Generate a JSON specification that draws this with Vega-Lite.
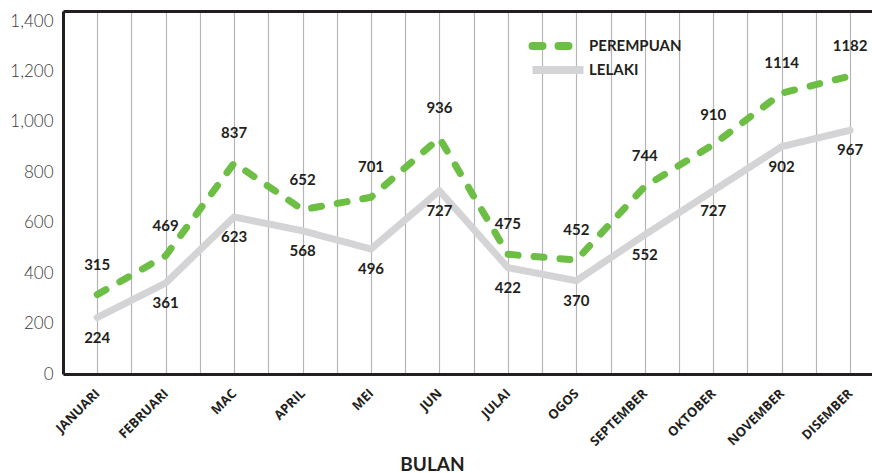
{
  "$schema": "https://vega.github.io/schema/vega-lite/v6.json",
  "width": 809,
  "height": 363,
  "autosize": "none",
  "padding": {"left": 63, "top": 11, "right": 0, "bottom": 99},
  "background": "white",
  "config": {"view": {"stroke": null}, "font": "Lato"},
  "data": {
    "values": [
      {"i": 1, "jantina": "PEREMPUAN", "nilai": 315},
      {"i": 2, "jantina": "PEREMPUAN", "nilai": 469},
      {"i": 3, "jantina": "PEREMPUAN", "nilai": 837},
      {"i": 4, "jantina": "PEREMPUAN", "nilai": 652},
      {"i": 5, "jantina": "PEREMPUAN", "nilai": 701},
      {"i": 6, "jantina": "PEREMPUAN", "nilai": 936},
      {"i": 7, "jantina": "PEREMPUAN", "nilai": 475},
      {"i": 8, "jantina": "PEREMPUAN", "nilai": 452},
      {"i": 9, "jantina": "PEREMPUAN", "nilai": 744},
      {"i": 10, "jantina": "PEREMPUAN", "nilai": 910},
      {"i": 11, "jantina": "PEREMPUAN", "nilai": 1114},
      {"i": 12, "jantina": "PEREMPUAN", "nilai": 1182},
      {"i": 1, "jantina": "LELAKI", "nilai": 224},
      {"i": 2, "jantina": "LELAKI", "nilai": 361},
      {"i": 3, "jantina": "LELAKI", "nilai": 623},
      {"i": 4, "jantina": "LELAKI", "nilai": 568},
      {"i": 5, "jantina": "LELAKI", "nilai": 496},
      {"i": 6, "jantina": "LELAKI", "nilai": 727},
      {"i": 7, "jantina": "LELAKI", "nilai": 422},
      {"i": 8, "jantina": "LELAKI", "nilai": 370},
      {"i": 9, "jantina": "LELAKI", "nilai": 552},
      {"i": 10, "jantina": "LELAKI", "nilai": 727},
      {"i": 11, "jantina": "LELAKI", "nilai": 902},
      {"i": 12, "jantina": "LELAKI", "nilai": 967}
    ]
  },
  "resolve": {"axis": {"x": "independent"}},
  "layer": [
    {
      "mark": {"type": "line", "strokeWidth": 7, "strokeCap": "round", "strokeJoin": "round"},
      "encoding": {
        "x": {
          "field": "i", "type": "quantitative",
          "scale": {"domain": [0.5, 12.32], "nice": false, "zero": false},
          "axis": {
            "values": [1, 1.5, 2, 2.5, 3, 3.5, 4, 4.5, 5, 5.5, 6, 6.5, 7, 7.5, 8, 8.5, 9, 9.5, 10, 10.5, 11, 11.5, 12],
            "labelExpr": "datum.value % 1 == 0 ? ['JANUARI','FEBRUARI','MAC','APRIL','MEI','JUN','JULAI','OGOS','SEPTEMBER','OKTOBER','NOVEMBER','DISEMBER'][datum.value - 1] : ''",
            "labelAngle": -45, "labelAlign": "right", "labelBaseline": "middle",
            "labelPadding": 17, "labelFont": "Open Sans", "labelFontSize": 13, "labelFontWeight": "bold", "labelColor": "#231F20",
            "labelOverlap": false, "labelFlush": false,
            "ticks": false,
            "grid": true, "gridColor": "#b5b5b8", "gridWidth": 1.2,
            "domainColor": "#231F20", "domainWidth": 3,
            "title": "BULAN", "titleFontSize": 19, "titleFontWeight": "bold", "titleColor": "#231F20",
            "titleX": 369, "titleY": 96, "titleBaseline": "alphabetic", "titleAlign": "center"
          }
        },
        "y": {
          "field": "nilai", "type": "quantitative",
          "scale": {"domain": [0, 1440], "nice": false},
          "axis": {
            "values": [0, 200, 400, 600, 800, 1000, 1200, 1400],
            "labelExpr": "format(datum.value, ',')",
            "grid": false, "ticks": false,
            "labelPadding": 10, "labelFontSize": 17, "labelFontWeight": 300, "labelColor": "#3a3a3a",
            "domainColor": "#231F20", "domainWidth": 3,
            "title": null
          }
        },
        "color": {
          "field": "jantina", "type": "nominal",
          "scale": {"domain": ["PEREMPUAN", "LELAKI"], "range": ["#6CBE45", "#D4D4D6"]},
          "legend": {
            "orient": "none", "legendX": 487, "legendY": 27, "title": null,
            "symbolType": "M-6.375,0H6.375", "symbolSize": 64, "symbolStrokeWidth": 8,
            "rowPadding": -10, "labelOffset": 23,
            "labelFontSize": 15, "labelFontWeight": "bold", "labelColor": "#231F20",
            "encode": {"symbols": {"update": {
              "strokeCap": {"signal": "datum.value == 'PEREMPUAN' ? 'round' : 'butt'"},
              "strokeDash": {"signal": "datum.value == 'PEREMPUAN' ? [12, 10] : [1, 0]"}
            }}}
          }
        },
        "strokeDash": {
          "field": "jantina", "type": "nominal",
          "scale": {"domain": ["PEREMPUAN", "LELAKI"], "range": [[10, 16], [1, 0]]},
          "legend": null
        }
      }
    },
    {
      "transform": [{"filter": "datum.jantina == 'PEREMPUAN'"}],
      "mark": {"type": "text", "dy": -30, "fontSize": 15, "fontWeight": "bold", "color": "#231F20"},
      "encoding": {
        "x": {
          "field": "i", "type": "quantitative",
          "axis": {"orient": "top", "labels": false, "ticks": false, "grid": false, "title": null, "domainColor": "#231F20", "domainWidth": 3}
        },
        "y": {"field": "nilai", "type": "quantitative"},
        "text": {"field": "nilai", "type": "quantitative", "format": "d"}
      }
    },
    {
      "transform": [{"filter": "datum.jantina == 'LELAKI'"}],
      "mark": {"type": "text", "dy": 20, "fontSize": 15, "fontWeight": "bold", "color": "#231F20"},
      "encoding": {
        "x": {"field": "i", "type": "quantitative", "axis": null},
        "y": {"field": "nilai", "type": "quantitative"},
        "text": {"field": "nilai", "type": "quantitative", "format": "d"}
      }
    }
  ]
}
